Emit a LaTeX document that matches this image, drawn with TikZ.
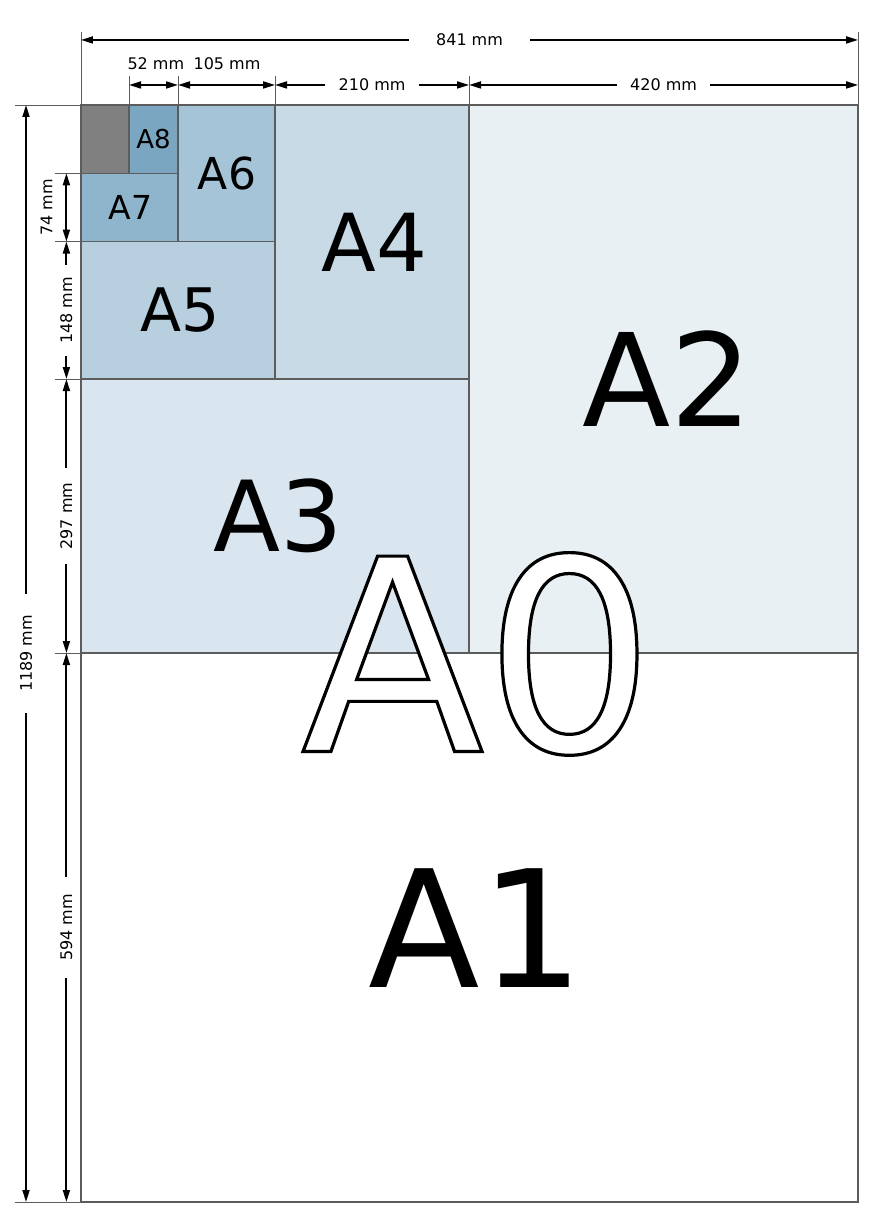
\documentclass[tikz,border=0pt]{standalone}
\usepackage{fontspec}
\setmainfont{DejaVu Sans}
\usetikzlibrary{arrows.meta}

\definecolor{edgegray}{RGB}{92,92,92}
\definecolor{restgray}{RGB}{128,128,128}
\definecolor{fillAtwo}{RGB}{232,240,244}
\definecolor{fillAthree}{RGB}{218,230,239}
\definecolor{fillAfour}{RGB}{200,218,230}
\definecolor{fillAfive}{RGB}{183,207,222}
\definecolor{fillAsix}{RGB}{166,196,216}
\definecolor{fillAseven}{RGB}{143,181,205}
\definecolor{fillAeight}{RGB}{122,166,194}

% 空心字：白色填充，黑色描边
\newcommand{\hollowtext}[1]{\special{pdf:literal direct 0 G 2 Tr 3.2 w}#1\special{pdf:literal direct 0 Tr}}

\begin{document}
\begin{tikzpicture}[x=0.924pt, y=-0.9226pt,
    paper/.style={draw=edgegray, line width=1.2pt},
    extline/.style={draw=edgegray, line width=0.9pt},
    dimline/.style={line width=1.8pt, -{Triangle[length=12pt,width=7pt]}},
    dimboth/.style={line width=1.8pt, {Triangle[length=12pt,width=7pt]}-{Triangle[length=12pt,width=7pt]}},
    dimlabel/.style={font=\fontsize{16}{19}\selectfont, inner ysep=0pt},
    sizelabel/.style={font=\fontsize{#1}{#1}\selectfont, inner sep=0pt}]
    \useasboundingbox (-87.66,-113.8) rectangle (882,1196.6);

    % 纸张
    \draw[paper, fill=white] (0,0) rectangle (841,1189);
    \draw[paper, fill=fillAtwo] (420,0) rectangle (841,594);
    \draw[paper, fill=fillAthree] (0,297) rectangle (420,594);
    \draw[paper, fill=fillAfour] (210,0) rectangle (420,297);
    \draw[paper, fill=fillAfive] (0,148) rectangle (210,297);
    \draw[paper, fill=fillAsix] (105,0) rectangle (210,148);
    \draw[paper, fill=fillAseven] (0,74) rectangle (105,148);
    \draw[paper, fill=fillAeight] (52,0) rectangle (105,74);
    \draw[paper, fill=restgray] (0,0) rectangle (52,74);

    % 纸张名称
    \node[sizelabel=26] (lA8) at (78.5,37) {A8};
    \node[sizelabel=33] (lA7) at (53.5,111) {A7};
    \node[sizelabel=44] (lA6) at (158,74) {A6};
    \node[sizelabel=60] (lA5) at (107,222.5) {A5};
    \node[sizelabel=80] (lA4) at (317.5,148.5) {A4};
    \node[sizelabel=98] (lA3) at (213,445.5) {A3};
    \node[sizelabel=129] (lA2) at (634.5,297) {A2};
    \node[sizelabel=163] (lA1) at (428,892) {A1};

    % A0
    \node[sizelabel=268, text=white] (lA0) at (429.5,595) {\hollowtext{A0}};

    % 尺寸界线
    \draw[extline] (0,-79) -- (0,0);
    \draw[extline] (841,-79) -- (841,0);
    \foreach \xx in {52,105,210,420}
        \draw[extline] (\xx,-31.4) -- (\xx,0);
    \draw[extline] (-71.4,0) -- (0,0);
    \draw[extline] (-71.4,1189) -- (0,1189);
    \foreach \yy in {74,148,297,594}
        \draw[extline] (-28,\yy) -- (0,\yy);

    % 顶部尺寸
    \node[dimlabel, inner xsep=27pt] (d841) at (420.5,-70.5) {841 mm};
    \coordinate (d841l) at (0,-70.5);
    \coordinate (d841r) at (841,-70.5);
    \draw[dimline] (d841.west) -- (d841l);
    \draw[dimline] (d841.east) -- (d841r);

    \coordinate (w52) at (52,-21.7);
    \coordinate (w105) at (105,-21.7);
    \coordinate (w210) at (210,-21.7);
    \coordinate (w420) at (420,-21.7);
    \coordinate (w841) at (841,-21.7);
    \node[dimlabel] (d52) at (81,-45) {52 mm};
    \node[dimlabel] (d105) at (158,-45) {105 mm};
    \draw[dimboth] (w52) -- (w105);
    \draw[dimboth] (w105) -- (w210);
    \node[dimlabel, inner xsep=13pt] (d210) at (315,-21.7) {210 mm};
    \draw[dimline] (d210.west) -- (w210);
    \draw[dimline] (d210.east) -- (w420);
    \node[dimlabel, inner xsep=13pt] (d420) at (630.5,-21.7) {420 mm};
    \draw[dimline] (d420.west) -- (w420);
    \draw[dimline] (d420.east) -- (w841);

    % 左侧尺寸
    \node[dimlabel, rotate=90, inner xsep=21pt] (d1189) at (-59.5,594.5) {1189 mm};
    \coordinate (h1189t) at (-59.5,0);
    \coordinate (h1189b) at (-59.5,1189);
    \draw[dimline] (d1189.east) -- (h1189t);
    \draw[dimline] (d1189.west) -- (h1189b);

    \coordinate (h74) at (-15.8,74);
    \coordinate (h148) at (-15.8,148);
    \coordinate (h297) at (-15.8,297);
    \coordinate (h594) at (-15.8,594);
    \coordinate (h1189) at (-15.8,1189);
    \draw[dimboth] (h74) -- (h148);
    \node[dimlabel, rotate=90] (d74) at (-37.3,111) {74 mm};
    \node[dimlabel, rotate=90, inner xsep=12pt] (d148) at (-15.8,222.5) {148 mm};
    \draw[dimline] (d148.east) -- (h148);
    \draw[dimline] (d148.west) -- (h297);
    \node[dimlabel, rotate=90, inner xsep=14pt] (d297) at (-15.8,445.5) {297 mm};
    \draw[dimline] (d297.east) -- (h297);
    \draw[dimline] (d297.west) -- (h594);
    \node[dimlabel, rotate=90, inner xsep=17pt] (d594) at (-15.8,891.5) {594 mm};
    \draw[dimline] (d594.east) -- (h594);
    \draw[dimline] (d594.west) -- (h1189);
\end{tikzpicture}
\end{document}
